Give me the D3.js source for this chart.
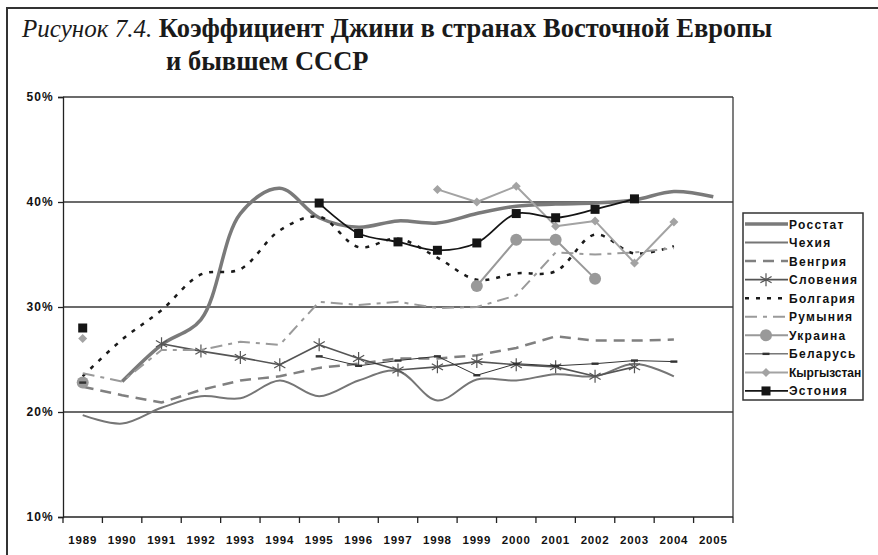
<!DOCTYPE html>
<meta charset="utf-8">
<script src="https://d3js.org/d3.v7.min.js"></script>
<style>
  body { margin: 0; background: #fff; }
  svg { display: block; }
</style>
<svg width="878" height="555"></svg>
<script>
// years on the category axis
var years = ["1989","1990","1991","1992","1993","1994","1995","1996","1997",
             "1998","1999","2000","2001","2002","2003","2004","2005"];

// Gini, %, one value per year (null = no data)
var rosstat   = [null, 22.9, 26.4, 28.8, 38.9, 41.3, 38.5, 37.6, 38.2, 38.0, 38.9, 39.6, 39.8, 39.9, 40.2, 41.0, 40.5];
var czech     = [19.7, 18.9, 20.4, 21.5, 21.3, 23.0, 21.5, 23.0, 23.9, 21.1, 23.1, 23.0, 23.6, 23.4, 24.6, 23.4, null];
var hungary   = [22.4, 21.6, 20.9, 22.1, 23.0, 23.4, 24.2, 24.6, 25.1, 25.1, 25.4, 26.1, 27.2, 26.8, 26.8, 26.9, null];
var slovenia  = [null, null, 26.5, 25.8, 25.2, 24.5, 26.4, 25.1, 24.0, 24.3, 24.8, 24.5, 24.3, 23.4, 24.3, null, null];
var bulgaria  = [23.4, 26.9, 29.7, 33.1, 33.6, 37.3, 38.6, 35.7, 36.5, 34.7, 32.6, 33.2, 33.4, 36.9, 35.1, 35.8, null];
var romania   = [23.7, 22.9, 25.9, 25.9, 26.7, 26.4, 30.5, 30.2, 30.5, 29.9, 30.0, 31.1, 35.2, 35.0, 35.2, 35.6, null];
var ukraine   = [22.8, null, null, null, null, null, null, null, null, null, 32.0, 36.4, 36.4, 32.7, null, null, null];
var belarus   = [22.8, null, null, null, null, null, 25.3, 24.4, 24.9, 25.3, 23.5, 24.6, 24.4, 24.6, 24.9, 24.8, null];
var kyrgyzstan= [27.0, null, null, null, null, null, null, null, null, 41.2, 40.0, 41.5, 37.7, 38.2, 34.2, 38.1, null];
var estonia   = [28.0, null, null, null, null, null, 39.9, 37.0, 36.2, 35.4, 36.1, 38.9, 38.5, 39.3, 40.3, null, null];

var yTicks = [10, 20, 30, 40, 50];
var gridTicks = [20, 30, 40, 50];

var seriesNames = ["Росстат","Чехия","Венгрия","Словения","Болгария",
                   "Румыния","Украина","Беларусь","Кыргызстан","Эстония"];
var seriesData = [rosstat, czech, hungary, slovenia, bulgaria,
                  romania, ukraine, belarus, kyrgyzstan, estonia];

// drawing styles
var styles = {
  "Росстат":    {color: "#7a7a7a", width: 3.5, dash: null,          smooth: true,  marker: null},
  "Чехия":      {color: "#767676", width: 2,   dash: null,          smooth: true,  marker: null},
  "Венгрия":    {color: "#808080", width: 2.5, dash: "11,7",        smooth: false, marker: null},
  "Словения":   {color: "#555555", width: 1.6, dash: null,          smooth: false, marker: "star"},
  "Болгария":   {color: "#1a1a1a", width: 2.5, dash: "4,7",         smooth: true,  marker: null},
  "Румыния":    {color: "#9a9a9a", width: 2,   dash: "12,6,4,6",    smooth: false, marker: null},
  "Украина":    {color: "#999999", width: 2,   dash: null,          smooth: false, marker: "circle"},
  "Беларусь":   {color: "#333333", width: 1,   dash: null,          smooth: false, marker: "bar"},
  "Кыргызстан": {color: "#a3a3a3", width: 2,   dash: null,          smooth: false, marker: "diamond"},
  "Эстония":    {color: "#151515", width: 1.8, dash: null,          smooth: true,  marker: "square"}
};

var svg = d3.select("svg");

var x = d3.scaleBand().domain(years).range([63, 733]);
var y = d3.scaleLinear().domain([10, 50]).range([517, 97]);
function cx(i) { return x(years[i]) + x.bandwidth() / 2; }

// outer frame (only left and top visible)
svg.append("path")
    .attr("d", "M7,555V8H878")
    .attr("fill", "none")
    .attr("stroke", "#333")
    .attr("stroke-width", 2);

// title
var title = svg.append("text")
    .attr("x", 22).attr("y", 37)
    .style("font-family", "'Liberation Serif', 'DejaVu Serif', serif")
    .attr("fill", "#1a1a1a");
title.append("tspan").style("font-style", "italic").style("font-size", "25px").text("Рисунок 7.4.");
title.append("tspan").style("font-weight", "bold").style("font-size", "26.5px").text(" Коэффициент Джини в странах Восточной Европы");
svg.append("text")
    .attr("x", 166).attr("y", 70)
    .style("font-family", "'Liberation Serif', 'DejaVu Serif', serif")
    .style("font-size", "26.5px")
    .style("font-weight", "bold")
    .attr("fill", "#1a1a1a")
    .text("и бывшем СССР");

// gridlines
svg.append("g")
  .selectAll("line")
  .data(gridTicks)
  .enter().append("line")
    .attr("x1", 63).attr("x2", 733)
    .attr("y1", function(d) { return y(d); })
    .attr("y2", function(d) { return y(d); })
    .attr("stroke", "#3a3a3a")
    .attr("stroke-width", 1.3);

// right border of plot area
svg.append("line")
    .attr("x1", 733).attr("x2", 733).attr("y1", y(50)).attr("y2", y(10))
    .attr("stroke", "#3a3a3a").attr("stroke-width", 1.3);

// y axis
var yAxis = svg.append("g")
    .attr("transform", "translate(63,0)")
    .call(d3.axisLeft(y).tickValues(yTicks).tickFormat(function(d) { return d + "%"; }).tickSize(5).tickPadding(4));
yAxis.select(".domain").attr("stroke", "#222").attr("stroke-width", 1.3);
yAxis.selectAll(".tick line").attr("stroke", "#222").attr("stroke-width", 1.3);
yAxis.selectAll(".tick text")
    .attr("fill", "#111")
    .style("font-family", "'Liberation Sans', Arial, sans-serif")
    .style("font-size", "12px")
    .style("font-weight", "bold")
    .style("letter-spacing", "1.2px");

// x axis: labels in band centres, ticks on band edges
var xAxis = svg.append("g")
    .attr("transform", "translate(0,517)")
    .call(d3.axisBottom(x).tickSize(0).tickPadding(19));
xAxis.select(".domain").remove();
xAxis.selectAll(".tick text")
    .attr("fill", "#111")
    .style("font-family", "'Liberation Sans', Arial, sans-serif")
    .style("font-size", "11.5px")
    .style("font-weight", "bold")
    .style("letter-spacing", "0.8px");
svg.append("line")
    .attr("x1", 63).attr("x2", 733).attr("y1", 517).attr("y2", 517)
    .attr("stroke", "#222").attr("stroke-width", 1.3);
svg.append("g")
  .selectAll("line")
  .data(years.concat(["end"]))
  .enter().append("line")
    .attr("x1", function(d) { return d === "end" ? 733 : x(d); })
    .attr("x2", function(d) { return d === "end" ? 733 : x(d); })
    .attr("y1", 517).attr("y2", 523)
    .attr("stroke", "#222").attr("stroke-width", 1.3);

// marker drawing
function drawMarker(sel, type, color) {
  if (type === "star") {
    sel.append("path")
      .attr("d", "M0,-6.5V6.5M-5.6,-3.2L5.6,3.2M-5.6,3.2L5.6,-3.2")
      .attr("stroke", color).attr("stroke-width", 1.2).attr("fill", "none");
  } else if (type === "circle") {
    sel.append("circle").attr("r", 6).attr("fill", color);
  } else if (type === "bar") {
    sel.append("rect").attr("x", -3.5).attr("y", -1.2).attr("width", 7).attr("height", 2.4).attr("fill", color);
  } else if (type === "diamond") {
    sel.append("path").attr("d", "M0,-4.5L4.5,0L0,4.5L-4.5,0Z").attr("fill", color);
  } else if (type === "square") {
    sel.append("rect").attr("x", -4.5).attr("y", -4.5).attr("width", 9).attr("height", 9).attr("fill", color);
  }
}

// series
var plot = svg.append("g");
seriesNames.forEach(function(name, k) {
  var st = styles[name];
  var vals = seriesData[k];
  var pts = vals.map(function(v, i) { return {i: i, v: v}; });
  var line = d3.line()
      .defined(function(d) { return d.v != null; })
      .x(function(d) { return cx(d.i); })
      .y(function(d) { return y(d.v); })
      .curve(st.smooth ? d3.curveCatmullRom.alpha(0.5) : d3.curveLinear);
  plot.append("path")
      .datum(pts)
      .attr("d", line)
      .attr("fill", "none")
      .attr("stroke", st.color)
      .attr("stroke-width", st.width)
      .attr("stroke-dasharray", st.dash)
      .attr("stroke-linejoin", "round");
  if (st.marker) {
    plot.append("g")
      .selectAll("g")
      .data(pts.filter(function(d) { return d.v != null; }))
      .enter().append("g")
        .attr("transform", function(d) { return "translate(" + cx(d.i) + "," + y(d.v) + ")"; })
        .each(function() { drawMarker(d3.select(this), st.marker, st.color); });
  }
});

// legend
var legend = svg.append("g");
legend.append("rect")
    .attr("x", 743).attr("y", 213).attr("width", 120).attr("height", 187)
    .attr("fill", "#fff").attr("stroke", "#333").attr("stroke-width", 1.5);
var rows = legend.selectAll("g.row")
  .data(seriesNames)
  .enter().append("g")
    .attr("class", "row")
    .attr("transform", function(d, i) { return "translate(0," + (224 + i * 18.55) + ")"; });
rows.append("line")
    .attr("x1", 745).attr("x2", 788)
    .attr("stroke", function(d) { return styles[d].color; })
    .attr("stroke-width", function(d) { return styles[d].width; })
    .attr("stroke-dasharray", function(d) { return styles[d].dash; });
rows.each(function(d) {
  if (styles[d].marker) {
    var g = d3.select(this).append("g").attr("transform", "translate(766,0)");
    drawMarker(g, styles[d].marker, styles[d].color);
  }
});
rows.append("text")
    .attr("x", 789).attr("y", 4.5)
    .attr("fill", "#111")
    .style("font-family", "'Liberation Sans', Arial, sans-serif")
    .style("font-size", "12px")
    .style("font-weight", "bold")
    .style("letter-spacing", function(d) { return d === "Кыргызстан" ? "0px" : "1.3px"; })
    .text(function(d) { return d; });
</script>
